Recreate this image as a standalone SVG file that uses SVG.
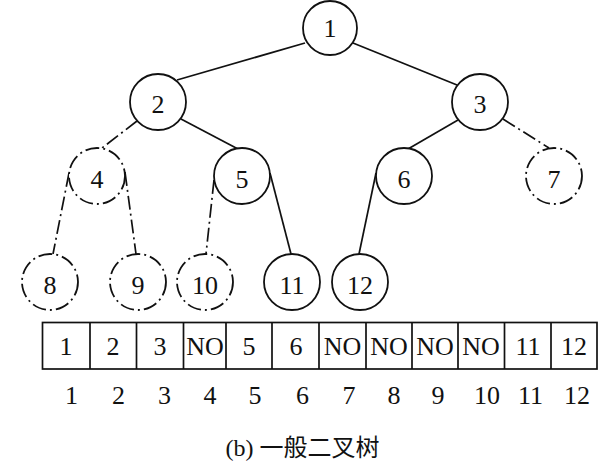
<svg xmlns="http://www.w3.org/2000/svg" width="605" height="472" viewBox="0 0 605 472">
<style>
.n{fill:#fff;stroke:#111;stroke-width:1.8}
.d{stroke-dasharray:14 4 2 4}
.e{stroke:#111;stroke-width:1.7;fill:none}
.t{font-family:"Liberation Serif","Times New Roman",serif;font-size:26px;fill:#111;text-anchor:middle}
.c{fill:none;stroke:#111;stroke-width:1.7}
</style>
<rect width="605" height="472" fill="#fff"/>
<g id="connectors">
<line class="e" x1="305" y1="43" x2="177" y2="80"/>
<line class="e" x1="353" y1="43" x2="457" y2="85"/>
<line class="e d" x1="137" y1="121" x2="102" y2="148"/>
<line class="e" x1="181" y1="119" x2="238" y2="149"/>
<line class="e" x1="458" y1="120" x2="408" y2="149"/>
<line class="e d" x1="503" y1="119" x2="549" y2="148"/>
<line class="e d" x1="69" y1="173" x2="53" y2="254"/>
<line class="e d" x1="125" y1="172" x2="136" y2="254"/>
<line class="e d" x1="214" y1="180" x2="206" y2="254"/>
<line class="e" x1="270" y1="173" x2="291" y2="254"/>
<line class="e" x1="376" y1="173" x2="359" y2="254"/>
</g>
<g id="node1"><circle class="n" cx="330" cy="28" r="27"/><text class="t" x="330" y="37">1</text></g>
<g id="node2"><circle class="n" cx="158" cy="102" r="28"/><text class="t" x="158" y="113">2</text></g>
<g id="node3"><circle class="n" cx="480" cy="102" r="28"/><text class="t" x="480" y="113">3</text></g>
<g id="node4"><circle class="n d" cx="97" cy="176" r="28"/><text class="t" x="97" y="188">4</text></g>
<g id="node5"><circle class="n" cx="242" cy="176" r="28"/><text class="t" x="242" y="188">5</text></g>
<g id="node6"><circle class="n" cx="404" cy="176" r="28"/><text class="t" x="404" y="188">6</text></g>
<g id="node7"><circle class="n d" cx="554" cy="176" r="28"/><text class="t" x="554" y="188">7</text></g>
<g id="node8"><circle class="n d" cx="50" cy="282" r="28"/><text class="t" x="50" y="294">8</text></g>
<g id="node9"><circle class="n d" cx="138" cy="282" r="28"/><text class="t" x="138" y="294">9</text></g>
<g id="node10"><circle class="n d" cx="205" cy="282" r="28"/><text class="t" x="205" y="294">10</text></g>
<g id="node11"><circle class="n" cx="292" cy="282" r="28"/><text class="t" x="292" y="294">11</text></g>
<g id="node12"><circle class="n" cx="360" cy="282" r="28"/><text class="t" x="360" y="294">12</text></g>
<g id="array">
<rect class="c" x="42.5" y="322.5" width="554.5" height="46.5"/>
<path class="c" d="M90 322.5V369M136.5 322.5V369M183.5 322.5V369M226 322.5V369M272 322.5V369M319 322.5V369M366 322.5V369M412 322.5V369M458 322.5V369M504.5 322.5V369M551 322.5V369"/>
<text class="t" x="66" y="355">1</text>
<text class="t" x="113" y="355">2</text>
<text class="t" x="160" y="355">3</text>
<text class="t" x="205" y="355">NO</text>
<text class="t" x="249" y="355">5</text>
<text class="t" x="296" y="355">6</text>
<text class="t" x="342.5" y="355">NO</text>
<text class="t" x="389" y="355">NO</text>
<text class="t" x="435" y="355">NO</text>
<text class="t" x="481" y="355">NO</text>
<text class="t" x="528" y="355">11</text>
<text class="t" x="574" y="355">12</text>
</g>
<g id="indices">
<text class="t" x="71.5" y="404">1</text>
<text class="t" x="118.5" y="404">2</text>
<text class="t" x="164.5" y="404">3</text>
<text class="t" x="210" y="404">4</text>
<text class="t" x="255" y="404">5</text>
<text class="t" x="302.5" y="404">6</text>
<text class="t" x="349" y="404">7</text>
<text class="t" x="394" y="404">8</text>
<text class="t" x="438" y="404">9</text>
<text class="t" x="487" y="404">10</text>
<text class="t" x="530.5" y="404">11</text>
<text class="t" x="577" y="404">12</text>
</g>
<text id="caption" x="302.5" y="456" style="font-family:'Liberation Serif','Noto Sans CJK SC',serif;font-size:24px;fill:#111;text-anchor:middle">(b) 一般二叉树</text>
</svg>
